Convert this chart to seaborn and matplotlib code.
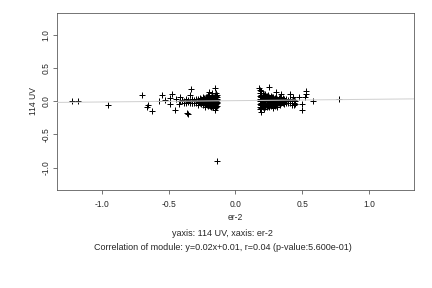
import matplotlib
matplotlib.use("Agg")
import matplotlib.pyplot as plt
import seaborn as sns
import pandas as pd

# ---- data ----
neg_x = [
    -0.135, -0.135, -0.135, -0.135, -0.135,
    -0.145, -0.145, -0.145, -0.145, -0.145, -0.145,
    -0.155, -0.155, -0.155, -0.155, -0.155, -0.155,
    -0.165, -0.165, -0.165, -0.165, -0.165,
    -0.175, -0.175, -0.175, -0.175, -0.175, -0.175,
    -0.185, -0.185, -0.185, -0.185, -0.185,
    -0.195, -0.195, -0.195, -0.195,
    -0.205, -0.205, -0.205, -0.205, -0.205,
    -0.215, -0.215, -0.215, -0.215,
    -0.225, -0.225, -0.225, -0.225,
    -0.235, -0.235, -0.235,
    -0.245, -0.245, -0.245, -0.245,
    -0.255, -0.255, -0.255,
    -0.265, -0.265, -0.265,
    -0.28, -0.28, -0.28,
    -0.295, -0.295, -0.295,
    -0.31, -0.31,
    -0.325, -0.325, -0.325,
    -0.34, -0.34,
    -0.355, -0.355,
    -0.37, -0.37, -0.37,
    -0.385, -0.385,
    -0.40, -0.40,
    -0.415,
    -0.14, -0.15, -0.16, -0.17, -0.18, -0.19, -0.20, -0.21, -0.22, -0.23,
    -0.14, -0.15, -0.16, -0.17, -0.18, -0.19, -0.20, -0.21, -0.22, -0.23,
]
neg_y = [
    0.06, 0.02, -0.03, -0.07, 0.09,
    0.08, 0.04, 0.0, -0.04, -0.09, 0.12,
    0.10, 0.05, 0.01, -0.02, -0.06, -0.10,
    0.07, 0.03, -0.01, -0.05, -0.08,
    0.09, 0.04, 0.0, -0.04, -0.07, 0.13,
    0.06, 0.02, -0.02, -0.06, -0.09,
    0.08, 0.03, -0.01, -0.05,
    0.05, 0.01, -0.03, -0.07, 0.10,
    0.06, 0.02, -0.02, -0.06,
    0.04, 0.0, -0.04, -0.08,
    0.05, 0.01, -0.03,
    0.03, -0.01, -0.05, 0.07,
    0.04, 0.0, -0.04,
    0.02, -0.02, 0.05,
    0.03, -0.01, -0.05,
    0.01, -0.03, 0.04,
    0.02, -0.02,
    0.0, 0.03, -0.03,
    0.01, -0.02,
    0.02, -0.01,
    0.0, 0.03, -0.03,
    0.01, -0.02,
    0.0, 0.02,
    0.01,
    0.04, -0.05, 0.07, -0.03, 0.05, -0.07, 0.03, -0.04, 0.06, -0.02,
    -0.01, 0.02, -0.04, 0.05, -0.01, 0.04, -0.06, 0.07, -0.01, 0.03,
]

pos_x = [
    0.185, 0.185, 0.185, 0.185, 0.185, 0.185, 0.185,
    0.195, 0.195, 0.195, 0.195, 0.195, 0.195,
    0.205, 0.205, 0.205, 0.205, 0.205, 0.205,
    0.215, 0.215, 0.215, 0.215, 0.215, 0.215,
    0.225, 0.225, 0.225, 0.225, 0.225, 0.225,
    0.235, 0.235, 0.235, 0.235, 0.235,
    0.245, 0.245, 0.245, 0.245, 0.245,
    0.255, 0.255, 0.255, 0.255, 0.255,
    0.265, 0.265, 0.265, 0.265, 0.265,
    0.275, 0.275, 0.275, 0.275,
    0.285, 0.285, 0.285, 0.285, 0.285,
    0.295, 0.295, 0.295, 0.295,
    0.305, 0.305, 0.305, 0.305,
    0.315, 0.315, 0.315, 0.315,
    0.325, 0.325, 0.325,
    0.335, 0.335, 0.335, 0.335,
    0.345, 0.345, 0.345,
    0.355, 0.355, 0.355,
    0.365, 0.365, 0.365,
    0.38, 0.38, 0.38,
    0.395, 0.395,
    0.41, 0.41, 0.41,
    0.425, 0.425, 0.425,
    0.44, 0.44, 0.44,
    0.45, 0.45,
    0.19, 0.20, 0.21, 0.22, 0.23, 0.24, 0.25, 0.26, 0.27, 0.28, 0.29, 0.30,
    0.19, 0.20, 0.21, 0.22, 0.23, 0.24, 0.25, 0.26, 0.27, 0.28, 0.29, 0.30,
]
pos_y = [
    0.12, 0.08, 0.04, 0.0, -0.04, -0.08, -0.11,
    0.10, 0.06, 0.02, -0.02, -0.06, -0.10,
    0.13, 0.07, 0.03, -0.01, -0.05, -0.09,
    0.09, 0.05, 0.01, -0.03, -0.07, -0.11,
    0.11, 0.06, 0.02, -0.02, -0.06, -0.09,
    0.08, 0.04, 0.0, -0.04, -0.08,
    0.10, 0.05, 0.01, -0.03, -0.07,
    0.07, 0.03, -0.01, -0.05, -0.09,
    0.08, 0.04, 0.0, -0.04, -0.07,
    0.06, 0.02, -0.02, -0.06,
    0.07, 0.03, -0.01, -0.05, -0.10,
    0.05, 0.01, -0.03, -0.07,
    0.06, 0.02, -0.02, -0.05,
    0.04, 0.0, -0.04, -0.08,
    0.05, 0.01, -0.03,
    0.03, -0.01, -0.05, 0.07,
    0.04, 0.0, -0.03,
    0.02, -0.02, 0.05,
    0.03, -0.01, -0.04,
    0.01, -0.03, 0.04,
    0.02, -0.02,
    0.0, 0.03, -0.03,
    0.01, -0.02, -0.05,
    0.02, -0.03, -0.06,
    0.0, -0.04,
    0.06, -0.03, 0.04, -0.05, 0.07, -0.02, 0.05, -0.06, 0.02, -0.04, 0.03, -0.01,
    -0.06, 0.03, -0.07, 0.02, -0.05, 0.06, -0.03, 0.02, -0.05, 0.04, -0.06, 0.03,
]

out_x = [-1.225, -1.18, -0.958, -0.703, -0.653, -0.66, -0.628, -0.575, -0.55,
         -0.53, -0.456, -0.493, -0.476, -0.49, -0.446, -0.426, -0.413, -0.363,
         -0.356, -0.331, -0.338, -0.326, -0.201, -0.156, -0.151, -0.139,
         0.178, 0.183, 0.19, 0.248, 0.193, 0.305, 0.343, 0.41, 0.435, 0.498,
         0.498, 0.473, 0.53, 0.53, 0.523, 0.578, 0.773]
out_y = [0.0, 0.0, -0.055, 0.095, -0.055, -0.08, -0.146, 0.01, 0.095,
         0.02, -0.13, 0.045, 0.11, -0.04, 0.035, -0.045, 0.06, -0.18,
         -0.195, 0.185, 0.095, -0.02, 0.146, 0.196, -0.13, -0.9,
         0.196, 0.17, 0.15, 0.22, -0.156, 0.146, 0.11, 0.11, 0.07, -0.04,
         -0.13, 0.06, 0.16, 0.11, 0.06, 0.01, 0.035]

fit_slope = 0.02
fit_intercept = 0.01

x_label = "er-2"
y_label = "114 UV"
caption1 = "yaxis: 114 UV, xaxis: er-2"
caption2 = "Correlation of module: y=0.02x+0.01, r=0.04 (p-value:5.600e-01)"
ticks = [-1.0, -0.5, 0.0, 0.5, 1.0]
tick_labels = ["-1.0", "-0.5", "0.0", "0.5", "1.0"]

df = pd.DataFrame({"x": neg_x + pos_x + out_x, "y": neg_y + pos_y + out_y})

sns.set_style("white")
plt.rcParams["font.family"] = ["Liberation Sans", "DejaVu Sans"]

fig = plt.figure(figsize=(6, 4), dpi=72)
ax = fig.add_axes([0.1326, 0.3403, 0.8257, 0.6156])

sns.scatterplot(data=df, x="x", y="y", marker="+", color="black", s=26,
                linewidth=1.0, ax=ax, zorder=2)
ax.axline((0, fit_intercept), slope=fit_slope, color="#d0d0d0", lw=1.0, zorder=3)

ax.set_xlim(-1.335, 1.338)
ax.set_ylim(-1.337, 1.336)
ax.set_xticks(ticks)
ax.set_xticklabels(tick_labels)
ax.set_yticks(ticks)
ax.set_yticklabels(tick_labels, rotation=90, va="center")

for sp in ax.spines.values():
    sp.set_visible(True)
    sp.set_color("#555555")
    sp.set_linewidth(0.8)

ax.tick_params(axis="both", which="both", direction="out", length=4, width=0.8,
               color="#555555", labelsize=8.5, left=True, bottom=True)
ax.tick_params(axis="x", pad=6)
ax.tick_params(axis="y", pad=3)
ax.set_xlabel(x_label, fontsize=8.5, labelpad=4)
ax.set_ylabel(y_label, fontsize=8.5, labelpad=3)

fig.text(0.516, 1 - 234 / 288, caption1, ha="center", va="center", fontsize=9)
fig.text(0.516, 1 - 248 / 288, caption2, ha="center", va="center", fontsize=9)

fig.savefig("out.png", dpi=72)
